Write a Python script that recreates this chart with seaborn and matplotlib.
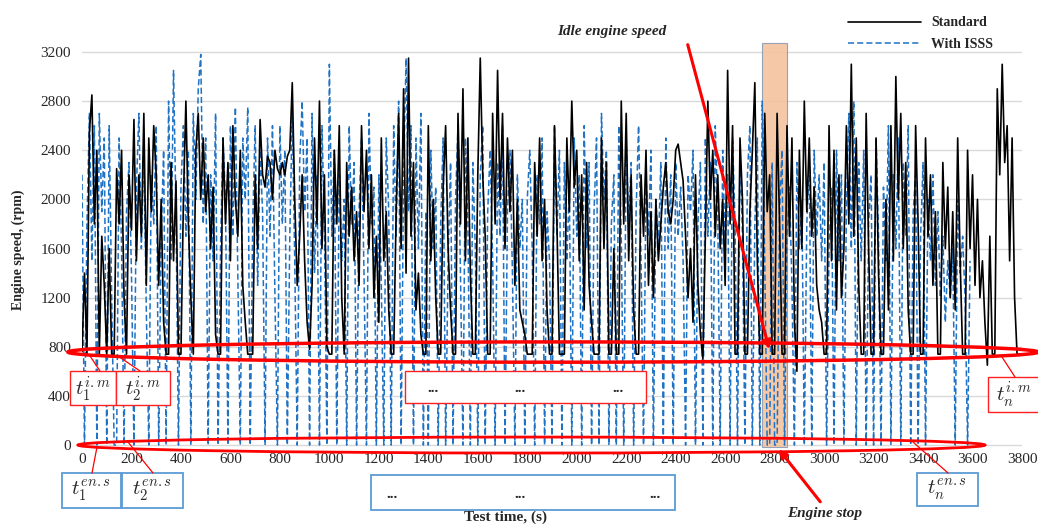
import numpy as np
import matplotlib
matplotlib.use("Agg")
import matplotlib.pyplot as plt
import seaborn as sns
from matplotlib.patches import Rectangle, Ellipse, FancyArrowPatch
from matplotlib.lines import Line2D

# engine speed (rpm), sampled every 10 s
standard_rpm = [
    760, 1400, 740, 2550, 2850, 1800, 2400, 740, 1700, 1300, 740, 1600, 740, 740, 2250, 1800, 2400, 1200, 740, 2200,
    1750, 2650, 1500, 2200, 1700, 2700, 1300, 2500, 1900, 2600, 2200, 1300, 2000, 1000, 740, 740, 2300, 1500, 2150, 740,
    740, 2000, 2800, 1800, 1200, 740, 2400, 2700, 2000, 2500, 1900, 2200, 1600, 2100, 900, 740, 740, 2500, 1800, 2300,
    1500, 2600, 2000, 1700, 2400, 1300, 1000, 740, 740, 740, 2200, 1600, 2650, 2200, 2100, 2350, 2300, 2000, 2400, 2250,
    2200, 2300, 2200, 2350, 2400, 2950, 2000, 1300, 1700, 2200, 1500, 1000, 780, 1300, 2500, 1800, 2800, 1600, 2200, 800,
    740, 740, 2400, 1800, 2600, 1200, 740, 2300, 1700, 2100, 1500, 1900, 1300, 2600, 1900, 2400, 1600, 2200, 1200, 1700,
    1000, 2500, 1500, 1900, 1100, 740, 740, 1900, 2700, 1600, 2900, 1400, 3150, 1700, 2300, 1100, 1400, 900, 740, 740,
    2600, 1500, 2000, 1200, 740, 740, 2100, 2600, 1600, 1100, 740, 740, 2700, 1800, 2900, 1500, 2500, 1400, 740, 740,
    2200, 3150, 2200, 1700, 740, 740, 2700, 1800, 3050, 2000, 2700, 1600, 2500, 1900, 2400, 1300, 2000, 1100, 1000, 900,
    740, 740, 740, 2300, 1700, 2500, 1500, 2000, 1100, 740, 740, 2600, 1800, 740, 740, 740, 2500, 1900, 2800, 2100,
    2400, 1500, 2200, 1100, 2300, 1300, 1000, 740, 740, 740, 2500, 1600, 2300, 740, 740, 1600, 740, 740, 2800, 1800,
    2700, 1500, 2200, 1100, 740, 740, 2200, 1700, 2400, 1300, 1900, 1200, 2000, 1500, 1800, 2100, 2300, 1900, 1800, 2000,
    2400, 2450, 2300, 2150, 1700, 1200, 1600, 1000, 2200, 1300, 900, 700, 1700, 2800, 2000, 2400, 1700, 2200, 1600, 2000,
    1300, 3050, 1800, 2600, 740, 740, 2500, 2000, 740, 740, 1900, 2400, 2950, 1500, 740, 740, 2700, 1900, 2200, 740,
    740, 2700, 1800, 740, 740, 2600, 1700, 2500, 1000, 600, 2400, 1600, 2800, 1900, 2500, 1700, 2100, 1300, 1100, 1000,
    740, 740, 2600, 1500, 2400, 1100, 2200, 1200, 1600, 2600, 1800, 3100, 1700, 2500, 1300, 740, 740, 2700, 1600, 740,
    740, 2500, 1400, 740, 740, 2000, 1100, 2600, 1500, 3000, 2000, 2700, 1600, 2300, 1100, 740, 740, 2600, 1800, 740,
    740, 2500, 1700, 2200, 1300, 1900, 740, 740, 2300, 1600, 2100, 1200, 1900, 1100, 2500, 1500, 740, 740, 2400, 1600,
    2200, 1300, 2000, 1200, 1500, 1000, 650, 1700, 740, 740, 2900, 2200, 3100, 2300, 2600, 1500, 2500, 1200, 740, 740,
    740,
]

isss_rpm = [
    2200, 0, 1800, 2700, 1500, 2600, 0, 2700, 1900, 2500, 0, 2600, 1200, 0, 0, 2500, 1600, 0, 1900, 2300,
    1400, 0, 2100, 2700, 1600, 2400, 1100, 0, 2200, 1800, 2600, 0, 1700, 2400, 0, 2800, 1500, 3050, 1900, 0,
    2100, 2600, 1700, 2400, 0, 2700, 2000, 2900, 3180, 1800, 2500, 0, 2200, 1500, 2700, 0, 1600, 2500, 2000, 0,
    2600, 1700, 2750, 1400, 0, 2500, 2000, 2750, 0, 1800, 2600, 1300, 2400, 1900, 0, 2500, 1700, 2600, 1200, 0,
    2600, 1800, 2400, 0, 1700, 2700, 1500, 0, 2300, 2800, 1900, 2500, 0, 2700, 1400, 2200, 0, 2600, 1800, 0,
    3100, 1700, 2400, 0, 2200, 1500, 2000, 0, 2600, 1800, 2300, 0, 1900, 2500, 1400, 0, 2700, 1800, 2100, 0,
    2200, 1300, 0, 2500, 1900, 0, 2600, 1700, 2800, 0, 2200, 3150, 1900, 2600, 0, 2500, 1600, 2700, 0, 1900,
    0, 2400, 1600, 2100, 0, 1800, 2500, 0, 1500, 2300, 0, 2000, 2600, 1400, 0, 2500, 1800, 0, 2300, 1600,
    0, 2200, 2600, 0, 1900, 2400, 1500, 0, 2300, 1700, 2600, 0, 1900, 2400, 1400, 0, 2200, 1600, 2000, 0,
    2000, 2400, 1600, 0, 2200, 1800, 2500, 0, 1900, 1500, 0, 2600, 1700, 2400, 0, 2300, 1500, 2100, 0, 2500,
    1700, 2200, 0, 2600, 1600, 2300, 0, 1900, 2500, 0, 2700, 2000, 2400, 0, 1800, 2200, 0, 2600, 1700, 0,
    2500, 1800, 2300, 0, 1900, 2600, 1500, 0, 2200, 1700, 2400, 0, 2000, 1600, 2300, 0, 2500, 1600, 2200, 0,
    2300, 1700, 2100, 1500, 0, 2200, 1900, 2400, 0, 1800, 2300, 0, 2500, 1700, 2300, 0, 2600, 1900, 0, 2400,
    1600, 2200, 0, 2500, 1800, 0, 2400, 1700, 0, 2200, 2600, 0, 1800, 2500, 0, 2800, 1500, 0, 0, 2300,
    0, 0, 1900, 2400, 0, 1700, 2100, 1300, 0, 2300, 1600, 2000, 0, 1800, 2300, 0, 2400, 1700, 2200, 1500,
    2300, 0, 1600, 2100, 0, 2400, 1500, 2200, 0, 1900, 2700, 1600, 2800, 0, 2300, 1500, 2400, 0, 1800, 2200,
    0, 2500, 1700, 0, 2100, 1500, 2600, 0, 2200, 1600, 2500, 0, 2300, 1700, 2600, 0, 1900, 2200, 0, 1700,
    2300, 0, 2000, 1500, 2200, 1300, 1900, 1200, 1700, 1000, 1500, 1200, 1600, 0, 2000, 1400, 1700, 1200, 0, 1500,
]

x_ticks = [0, 200, 400, 600, 800, 1000, 1200, 1400, 1600, 1800, 2000, 2200, 2400, 2600, 2800, 3000, 3200, 3400, 3600, 3800]
y_ticks = [0, 400, 800, 1200, 1600, 2000, 2400, 2800, 3200]
stop_window = (2749, 2850)

t_std = np.arange(len(standard_rpm)) * 10
t_isss = np.arange(len(isss_rpm)) * 10

W, H = 1038, 526
sns.set_style("white")
plt.rcParams["font.family"] = ["Liberation Serif", "DejaVu Serif"]
plt.rcParams["mathtext.fontset"] = "cm"

fig = plt.figure(figsize=(W / 100, H / 100), dpi=100)
ax = fig.add_axes([82 / W, 1 - 447.5 / H, 940 / W, 403.5 / H])

sns.lineplot(x=t_std, y=standard_rpm, color="black", lw=1.2, ax=ax, label="Standard", zorder=3)
sns.lineplot(x=t_isss, y=isss_rpm, color="#1f72c4", lw=1.1, linestyle=(0, (4, 2)), ax=ax,
             label="With ISSS", zorder=2)

ax.set_xlim(0, 3800)
ax.set_ylim(-20, 3265)
ax.set_xticks(x_ticks)
ax.set_yticks(y_ticks)
ax.tick_params(length=0, labelsize=11)
ax.tick_params(axis="y", pad=8)
ax.tick_params(axis="x", pad=4)
ax.grid(axis="y", color="#d9d9d9", lw=1)
ax.set_axisbelow(True)
sns.despine(ax=ax, left=True, bottom=True)
ax.set_xlabel("")
ax.set_ylabel("")

# engine stop highlight
ax.add_patch(Rectangle((stop_window[0], -15), stop_window[1] - stop_window[0], 3288,
                       fc="#f4c39f", ec="#8b9bb4", lw=0.8, alpha=0.9, zorder=1.5, clip_on=False))

# red ellipses for idle level and stop level
ax.add_patch(Ellipse((1904, 757), 3922, 165, fill=False, ec="red", lw=2.5, zorder=5, clip_on=False))
ax.add_patch(Ellipse((1817, 0), 3667, 130, fill=False, ec="red", lw=2, zorder=5, clip_on=False))

leg = ax.legend(loc="upper left", bbox_to_anchor=(835 / W, 1 - 4 / H), bbox_transform=fig.transFigure,
                frameon=False, handlelength=5.3, handletextpad=0.7, labelspacing=0.6,
                prop={"weight": "bold", "size": 10})


def fp(x, y):
    return (x / W, 1 - y / H)


def box(x0, y0, x1, y1, ec, lw=1.0):
    fig.add_artist(Rectangle(fp(x0, y1), (x1 - x0) / W, (y1 - y0) / H, transform=fig.transFigure,
                             fc="white", ec=ec, lw=lw, zorder=6))


def link(p, q):
    fig.add_artist(Line2D([p[0] / W, q[0] / W], [1 - p[1] / H, 1 - q[1] / H], transform=fig.transFigure,
                          color="red", lw=0.9, zorder=6))


red, blue = "#ff2020", "#5b9bd5"
box(70, 371, 116, 405, red)
box(116, 371, 170, 405, red)
box(405, 371, 646, 403, red)
box(988, 377, 1040, 412, red)
box(62, 473, 121, 508, blue, 1.3)
box(122, 473, 183, 508, blue, 1.3)
box(371, 475, 675, 510, blue, 1.3)
box(917, 473, 978, 506, blue, 1.3)

link((100, 371), (90, 356))
link((140, 371), (118, 356))
link((1015, 377), (1002, 357))
link((92, 473), (97, 447))
link((153, 473), (128, 442))
link((948, 473), (913, 442))

mt = dict(fontsize=15, ha="center", va="center", zorder=7)
fig.text(*fp(93, 389), r"$t_1^{i.m}$", **mt)
fig.text(*fp(143, 389), r"$t_2^{i.m}$", **mt)
fig.text(*fp(1014, 395), r"$t_n^{i.m}$", **mt)
fig.text(*fp(91, 491), r"$t_1^{en.s}$", **mt)
fig.text(*fp(152, 491), r"$t_2^{en.s}$", **mt)
fig.text(*fp(947, 490), r"$t_n^{en.s}$", **mt)
for x in (433, 520, 618):
    fig.text(*fp(x, 388), "...", fontsize=11, fontweight="bold", ha="center", va="center", zorder=7)
for x in (392, 520, 655):
    fig.text(*fp(x, 494), "...", fontsize=11, fontweight="bold", ha="center", va="center", zorder=7)

# arrows and callouts
fig.text(*fp(612, 32), "Idle engine speed", fontsize=11, fontweight="bold", fontstyle="italic",
         ha="center", va="center")
fig.text(*fp(825, 513), "Engine stop", fontsize=11, fontweight="bold", fontstyle="italic",
         ha="center", va="center")
fig.add_artist(FancyArrowPatch(fp(687, 42), fp(770, 352), transform=fig.transFigure, arrowstyle="-|>",
                               mutation_scale=12, color="red", lw=2.2, zorder=8))
fig.add_artist(FancyArrowPatch(fp(822, 504), fp(777, 447), transform=fig.transFigure, arrowstyle="-|>",
                               mutation_scale=12, color="red", lw=2.2, zorder=8))

fig.text(*fp(18, 250), "Engine speed, (rpm)", rotation=90, fontsize=10, fontweight="bold",
         ha="center", va="center")
fig.text(*fp(505, 511), "Test time, (s)", fontsize=11, fontweight="bold", ha="center", va="top")

fig.savefig("out.png", dpi=100)
